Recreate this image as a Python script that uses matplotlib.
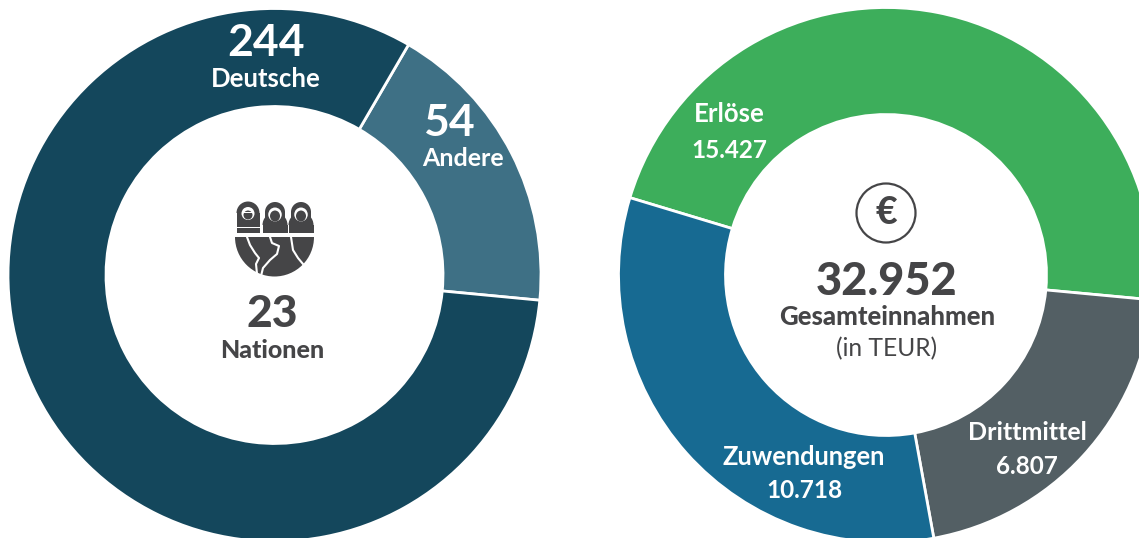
import matplotlib
matplotlib.use("Agg")
import matplotlib.pyplot as plt
from matplotlib.patches import Circle, Wedge, Rectangle, Ellipse

plt.rcParams["font.family"] = ["Lato", "DejaVu Sans"]

# Data
people_labels = ["Andere", "Deutsche"]
people_values = [54, 244]
people_colors = ["#3e7085", "#14475c"]
nations = "23"

income_labels = ["Erlöse", "Drittmittel", "Zuwendungen"]
income_values = [15427, 6807, 10718]
income_texts = ["15.427", "6.807", "10.718"]
income_colors = ["#3dae5b", "#535f64", "#176a92"]
income_total = "32.952"

W, H = 1139, 538
DARK = "#454547"

fig = plt.figure(figsize=(W / 100, H / 100), dpi=100)
ax = fig.add_axes([0, 0, 1, 1])


def Y(y):
    # pixel row in the picture to axis y
    return H - y


def donut(values, colors, cx, cy, radius, width, start):
    ax.pie(values, colors=colors, center=(cx, Y(cy)), radius=radius,
           startangle=start, counterclock=False, normalize=True,
           frame=False,
           wedgeprops=dict(width=width, edgecolor="white", linewidth=2))


donut(people_values, people_colors, 274.5, 275, 266.5, 98, 59.8)
donut(income_values, income_colors, 886, 275, 267.5, 107, 90 + 73.2)

ax.set_xlim(0, W)
ax.set_ylim(0, H)
ax.set_aspect("equal")
ax.axis("off")


def label(x, y, s, size, color="white", weight="normal"):
    ax.text(x, Y(y), s, fontsize=size, color=color, fontweight=weight,
            ha="center", va="center")


# left donut labels
label(266, 43, str(people_values[1]), 32, weight="bold")
label(266, 79, people_labels[1], 18.5, weight="bold")
label(449, 123, str(people_values[0]), 32, weight="bold")
label(463, 159, people_labels[0], 18, weight="bold")
label(272, 314, nations, 32, DARK, "black")
label(272, 350, "Nationen", 18, DARK, "black")

# right donut labels
label(729, 114, income_labels[0], 18.5, weight="bold")
label(729, 151, income_texts[0], 17.5, weight="bold")
label(1027, 432, income_labels[1], 18, weight="bold")
label(1027, 467, income_texts[1], 17.5, weight="bold")
label(804, 457, income_labels[2], 18.4, weight="bold")
label(804, 491, income_texts[2], 17.5, weight="bold")

label(887, 282, income_total, 32.5, DARK, "black")
label(887, 317, "Gesamteinnahmen", 18.5, DARK, "black")
label(887, 349, "(in TEUR)", 17.7, DARK)

# euro sign in a circle
ax.add_patch(Circle((886, Y(213)), 29.5, fill=False, edgecolor=DARK, linewidth=1.6))
label(886, 213, "€", 27, DARK, "black")

# icon: three people over a globe
ax.add_patch(Wedge((274.5, Y(237)), 39.5, 180, 360, color=DARK, linewidth=0))
for xs, ys in [([247, 250, 255, 259, 256, 257], [237, 245, 253, 258, 264, 274]),
               ([270, 272, 279, 277, 270, 263, 261], [237, 243, 246, 254, 260, 268, 276]),
               ([291, 293, 298, 303], [237, 250, 258, 264])]:
    ax.plot(xs, [Y(v) for v in ys], color="white", linewidth=1.5)

# hooded person
ax.add_patch(Rectangle((236.5, Y(233)), 23, 5, facecolor=DARK, edgecolor="none"))
ax.add_patch(Rectangle((236.5, Y(227)), 23, 14, facecolor=DARK, edgecolor="none"))
ax.add_patch(Wedge((248, Y(213)), 11.5, 0, 180, color=DARK, linewidth=0))
ax.add_patch(Circle((248, Y(213.5)), 6.5, facecolor="white", edgecolor="none"))
ax.add_patch(Circle((248, Y(215)), 4.5, facecolor=DARK, edgecolor="none"))
ax.add_patch(Rectangle((243, Y(213)), 10, 1.2, facecolor="white", edgecolor="none"))

# two people with hair
for px in (275, 301):
    ax.add_patch(Wedge((px, Y(212)), 10, 0, 180, color=DARK, linewidth=0))
    ax.add_patch(Rectangle((px - 10, Y(222)), 20, 10, facecolor=DARK, edgecolor="none"))
    ax.add_patch(Rectangle((px - 12.5, Y(233)), 25, 8, facecolor=DARK, edgecolor="none"))
    ax.add_patch(Wedge((px, Y(225)), 12.5, 0, 180, color=DARK, linewidth=0))
    ax.add_patch(Ellipse((px, Y(214.5)), 13.5, 14, facecolor="white", edgecolor="none"))
    ax.add_patch(Ellipse((px, Y(216)), 10, 11, facecolor=DARK, edgecolor="none"))

fig.savefig("out.png", dpi=100)
